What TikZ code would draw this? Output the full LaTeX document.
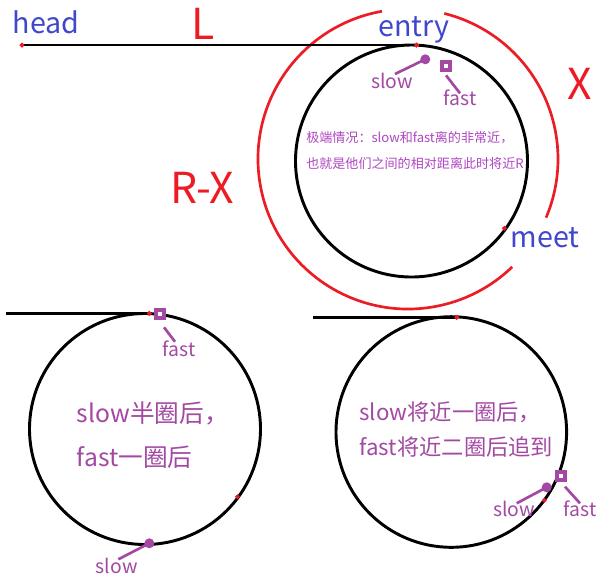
\documentclass[tikz,border=0pt]{standalone}
\usepackage{fontspec}
\setmainfont{Noto Sans CJK SC}
\definecolor{pred}{RGB}{237,28,36}
\definecolor{pblue}{RGB}{63,72,204}
\definecolor{ppurple}{RGB}{163,73,164}
\definecolor{pmag}{RGB}{175,70,195}
\begin{document}
\begin{tikzpicture}[x=0.75pt,y=0.75pt,
  loopline/.style={draw=black,line width=2.2pt},
  redring/.style={draw=pred,line width=2pt},
  reddot/.style={circle,draw=pred,fill=black,line width=1.1pt,inner sep=0pt,minimum size=2.2pt},
  slowdot/.style={circle,fill=ppurple,inner sep=0pt,minimum size=7.5pt},
  fastbox/.style={rectangle,draw=ppurple,fill=white,line width=3pt,inner sep=0pt,minimum size=6pt},
  tagline/.style={draw=ppurple,line width=2pt},
  bluetxt/.style={text=pblue,font=\fontsize{21.5pt}{26pt}\selectfont,inner sep=0pt,anchor=base},
  redtxt/.style={text=pred,font=\fontsize{32pt}{38pt}\selectfont,inner sep=0pt,anchor=base},
  tagtxt/.style={text=ppurple,font=\fontsize{14.5pt}{18pt}\selectfont,inner sep=0pt,anchor=base},
  notetxt/.style={text=pmag,font=\fontsize{9.8pt}{11pt}\selectfont,inner sep=0pt,anchor=base west},
  bignote/.style={text=ppurple,font=\fontsize{18.5pt}{22pt}\selectfont,inner sep=0pt,anchor=base west},
  midnote/.style={text=ppurple,font=\fontsize{16.7pt}{20pt}\selectfont,inner sep=0pt,anchor=base west}]
\useasboundingbox (0,0) rectangle (603,-576);
\fill[white] (0,0) rectangle (603,-576);

% ---------- top diagram ----------
\coordinate (c1) at (411.5,-161);
\coordinate (r1) at (408,-159);
\draw[redring] (r1) ++(-23:150) arc[start angle=-23,end angle=76,radius=150];
\draw[redring] (r1) ++(100:150) arc[start angle=100,end angle=314,radius=150];
\draw[loopline] (c1) circle[radius=116];
\node[reddot] (head) at (22,-45) {};
\node[reddot] (entry1) at (416.5,-45) {};
\draw[loopline] (head.center) -- (entry1.center);
\node[reddot] (meet1) at (504.3,-228.3) {};
\node[reddot] at (entry1) {};
\node[reddot] at (head) {};

\node[bluetxt] (headlbl) at (46,-33) {head};
\node[redtxt] (Llbl) at (203,-39.3) {L};
\node[bluetxt] (entrylbl) at (413.7,-36) {entry};
\node[redtxt] (Xlbl) at (580,-99) {X};
\node[redtxt] (RXlbl) at (202.5,-203.3) {R-X};
\node[bluetxt] (meetlbl) at (545,-247.3) {meet};

\coordinate (s1e) at (395,-74);
\node[slowdot] (s1) at (425.3,-59.3) {};
\draw[tagline] (s1.center) -- (s1e);
\node[tagtxt] (s1lbl) at (392,-88.3) {slow};
\coordinate (f1a) at (446,-75.3);
\coordinate (f1b) at (460,-93.3);
\draw[tagline] (f1a) -- (f1b);
\node[fastbox] (f1) at (445.5,-66) {};
\node[tagtxt] (f1lbl) at (460,-105.5) {fast};

\node[notetxt] (note1a) at (306,-142) {极端情况：slow和fast离的非常近，};
\node[notetxt] (note1b) at (306,-168) {也就是他们之间的相对距离此时将近R};

% ---------- bottom-left diagram ----------
\coordinate (c2) at (145,-429);
\draw[loopline] (c2) circle[radius=115.5];
\coordinate (t2) at (6,-313.3);
\node[reddot] (entry2) at (149.3,-313.3) {};
\draw[loopline] (t2) -- (entry2.center);
\node[reddot] at (entry2) {};
\node[reddot] (meet2) at (237.3,-496.7) {};

\coordinate (f2a) at (164,-327.3);
\coordinate (f2b) at (175,-341.7);
\draw[tagline] (f2a) -- (f2b);
\node[fastbox] (f2) at (159.5,-313.7) {};
\node[tagtxt] (f2lbl) at (179.3,-356.7) {fast};
\coordinate (s2e) at (118.3,-559.3);
\node[slowdot] (s2) at (149.3,-543.3) {};
\draw[tagline] (s2.center) -- (s2e);
\node[tagtxt] (s2lbl) at (116.7,-573) {slow};

\node[bignote] (note2a) at (76.7,-422) {slow半圈后，};
\node[bignote] (note2b) at (76.7,-466) {fast一圈后};

% ---------- bottom-right diagram ----------
\coordinate (c3) at (451.3,-432);
\draw[loopline] (c3) circle[radius=115.3];
\coordinate (t3) at (312.7,-317.3);
\node[reddot] (entry3) at (456.7,-317.3) {};
\draw[loopline] (t3) -- (entry3.center);
\node[reddot] at (entry3) {};
\node[reddot] (meet3) at (544.3,-500.3) {};

\coordinate (s3e) at (516.7,-503.3);
\node[slowdot] (s3) at (546.7,-487.3) {};
\draw[tagline] (s3.center) -- (s3e);
\node[tagtxt] (s3lbl) at (514,-516) {slow};
\coordinate (f3a) at (565,-486.7);
\coordinate (f3b) at (580,-503.3);
\draw[tagline] (f3a) -- (f3b);
\node[fastbox] (f3) at (561,-475.5) {};
\node[tagtxt] (f3lbl) at (580,-516.7) {fast};

\node[midnote] (note3a) at (359.3,-420) {slow将近一圈后，};
\node[midnote] (note3b) at (359.3,-455) {fast将近二圈后追到};
\end{tikzpicture}
\end{document}
